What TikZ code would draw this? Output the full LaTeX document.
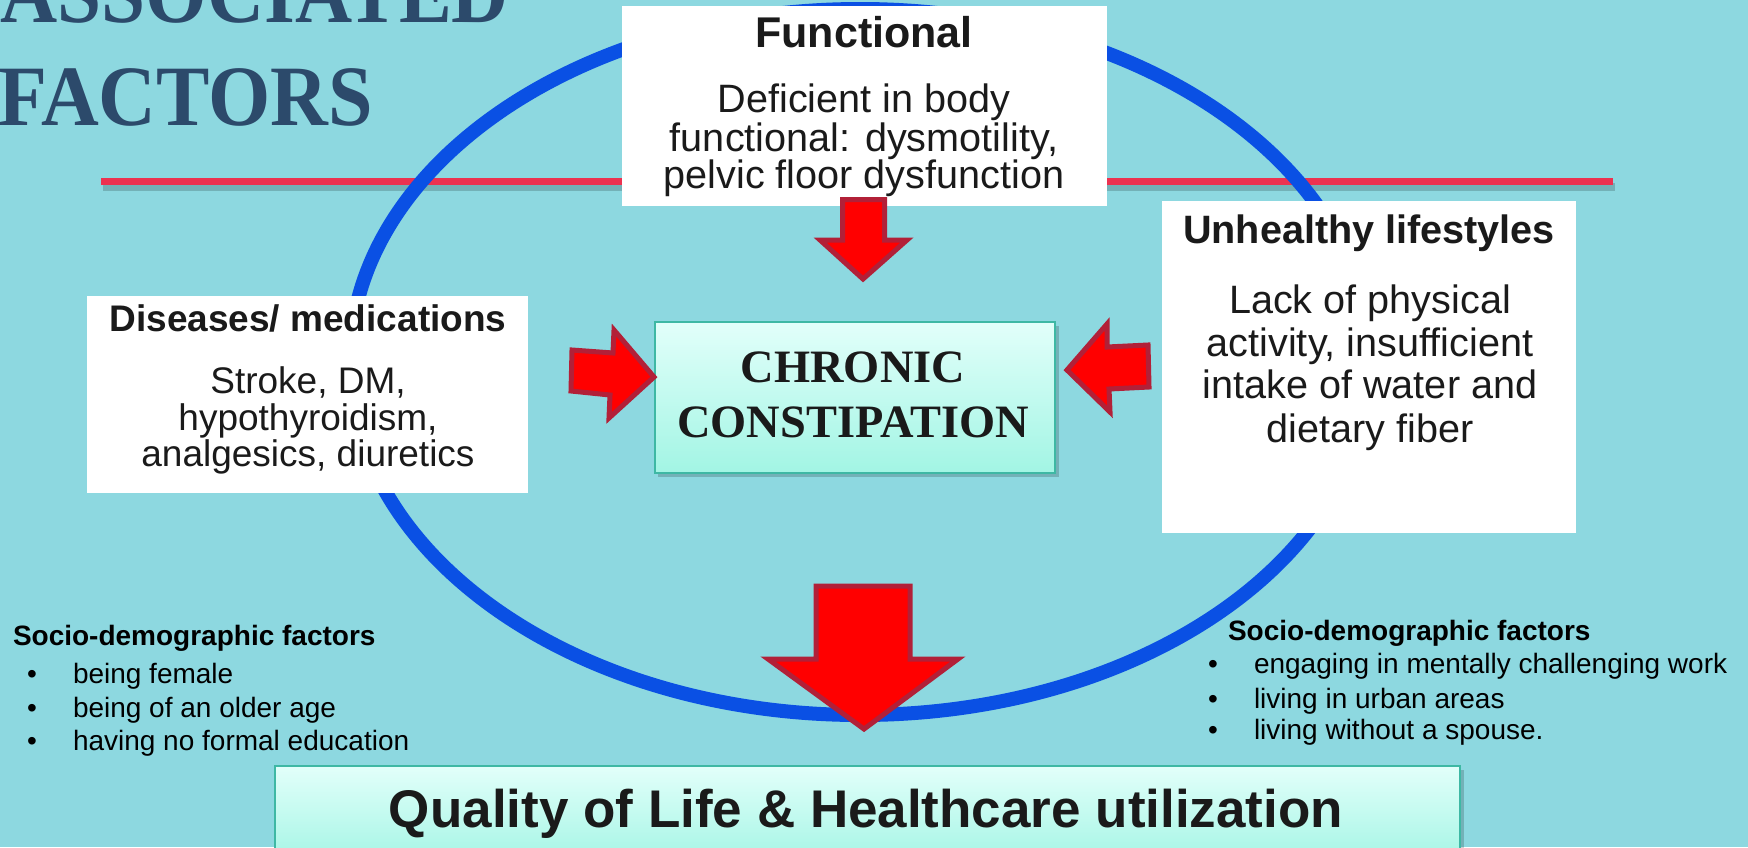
\documentclass[tikz,border=0pt]{standalone}
\usepackage{graphicx}
\usepackage{fontspec}
\setmainfont{Liberation Sans}
\newfontfamily\serifbold{Liberation Serif}
\definecolor{bgc}{RGB}{141,216,224}
\definecolor{ellc}{RGB}{10,80,228}
\definecolor{redline}{RGB}{236,50,80}
\definecolor{titlec}{RGB}{44,74,107}
\definecolor{arrfill}{RGB}{255,0,0}
\definecolor{arrdraw}{RGB}{178,32,56}
\definecolor{gtop}{RGB}{226,255,250}
\definecolor{gbot}{RGB}{162,245,228}
\definecolor{gborder}{RGB}{62,184,164}
\definecolor{txt}{RGB}{26,26,26}
\newcommand\setfs[1]{\fontsize{#1}{#1}\selectfont}
\begin{document}
\begin{tikzpicture}[x=0.5pt,y=-0.5pt,
  tx/.style={inner sep=0pt, outer sep=0pt, text=txt},
  whitebox/.style={fill=white, draw=none},
  gradbox/.style={top color=gtop, bottom color=gbot, draw=gborder, line width=1.2pt},
  blockarrow/.style={fill=arrfill, draw=arrdraw, line width=2.5pt, line join=miter},
  boxshadow/.style={fill=black, opacity=0.18}]
% background
\fill[bgc] (0,0) rectangle (1748,847);
\useasboundingbox (0,0) rectangle (1748,847);
% title
\node[tx, text=titlec, anchor=base east] (t1) at (509,22) {\serifbold\bfseries\setfs{43}\scalebox{0.92}[1]{ASSOCIATED}};
\node[tx, text=titlec, anchor=base east] (t2) at (373,125) {\serifbold\bfseries\setfs{43}\scalebox{0.93}[1]{FACTORS}};
% red rule with shadow
\draw[black, opacity=0.18, line width=4pt] (103,187) -- (1615,187);
\draw[redline, line width=3.5pt] (101,181) -- (1613,181);
% ellipse
\draw[ellc, line width=7pt] (860,362) ellipse [x radius=510, y radius=353];
% functional box
\node[whitebox, minimum width=242.5pt, minimum height=100pt, anchor=north west, inner sep=0pt] (func) at (622,6) {};
\node[tx, anchor=base] (funct) at (864,47) {\bfseries\setfs{21.5}Functional};
\node[tx, anchor=base] (fb1) at (864,112) {\setfs{19.8}Deficient in body};
\node[tx, anchor=base] (fb2) at (864,151) {\setfs{19.8}functional: dysmotility,};
\node[tx, anchor=base] (fb3) at (864,188) {\setfs{19.8}pelvic floor dysfunction};
% diseases box
\node[whitebox, minimum width=220.5pt, minimum height=98.5pt, anchor=north west, inner sep=0pt] (dis) at (87,296) {};
\node[tx, anchor=base] (dist) at (308,331) {\bfseries\setfs{18.5}Diseases/ medications};
\node[tx, anchor=base] (db1) at (308,393) {\setfs{18.5}Stroke, DM,};
\node[tx, anchor=base] (db2) at (308,430) {\setfs{18.5}hypothyroidism,};
\node[tx, anchor=base] (db3) at (308,466) {\setfs{18.5}analgesics, diuretics};
% unhealthy box
\node[whitebox, minimum width=207pt, minimum height=166pt, anchor=north west, inner sep=0pt] (unh) at (1162,201) {};
\node[tx, anchor=base] (unht) at (1369,243) {\bfseries\setfs{19.8}Unhealthy lifestyles};
\node[tx, anchor=base] (ub1) at (1370,313) {\setfs{19.8}Lack of physical};
\node[tx, anchor=base] (ub2) at (1370,356) {\setfs{19.8}activity, insufficient};
\node[tx, anchor=base] (ub3) at (1370,398) {\setfs{19.8}intake of water and};
\node[tx, anchor=base] (ub4) at (1370,442) {\setfs{19.8}dietary fiber};
% chronic constipation box
\fill[boxshadow] (658,326) rectangle (1059,477);
\node[gradbox, minimum width=200pt, minimum height=75.5pt, anchor=north west, inner sep=0pt] (cc) at (654,321) {};
\node[tx, anchor=base] (cc1) at (853,382) {\serifbold\bfseries\setfs{23.2}CHRONIC};
\node[tx, anchor=base] (cc2) at (853,437) {\serifbold\bfseries\setfs{23.2}CONSTIPATION};
% quality box
\fill[boxshadow] (278,770) rectangle (1464,860);
\node[gradbox, minimum width=592.5pt, minimum height=50pt, anchor=north west, inner sep=0pt] (qol) at (274,765) {};
\node[tx, anchor=base] (qolt) at (866,827) {\bfseries\setfs{26.5}Quality of Life \& Healthcare utilization};
% block arrows
\draw[blockarrow] (842.5,199.5) -- (884.5,199.5) -- (884.5,240) -- (907,240) -- (863,279) -- (820,240) -- (842.5,240) -- cycle;
\draw[blockarrow] (816,586) -- (910,586) -- (910,659) -- (958,659) -- (864,729) -- (768,659) -- (816,659) -- cycle;
\draw[blockarrow] (572,350) -- (613,353) -- (614,330) -- (654,377) -- (609,418) -- (610,395) -- (571,391) -- cycle;
\draw[blockarrow] (1067,370) -- (1107,324) -- (1107,347) -- (1148,345) -- (1149,387) -- (1109,389) -- (1110,412) -- cycle;
% socio-demographic left
\node[tx, text=black, anchor=base west] (sl) at (13,645) {\bfseries\setfs{14}Socio-demographic factors};
\node[tx, text=black, anchor=base] (slb1) at (32,683) {\setfs{14}•};
\node[tx, text=black, anchor=base] (slb2) at (32,717) {\setfs{14}•};
\node[tx, text=black, anchor=base] (slb3) at (32,750) {\setfs{14}•};
\node[tx, text=black, anchor=base west] (sl1) at (73,683) {\setfs{14}being female};
\node[tx, text=black, anchor=base west] (sl2) at (73,717) {\setfs{14}being of an older age};
\node[tx, text=black, anchor=base west] (sl3) at (73,750) {\setfs{14}having no formal education};
% socio-demographic right
\node[tx, text=black, anchor=base west] (sr) at (1228,640) {\bfseries\setfs{14}Socio-demographic factors};
\node[tx, text=black, anchor=base] (srb1) at (1213,673) {\setfs{14}•};
\node[tx, text=black, anchor=base] (srb2) at (1213,708) {\setfs{14}•};
\node[tx, text=black, anchor=base] (srb3) at (1213,739) {\setfs{14}•};
\node[tx, text=black, anchor=base west] (sr1) at (1254,673) {\setfs{14}engaging in mentally challenging work};
\node[tx, text=black, anchor=base west] (sr2) at (1254,708) {\setfs{14}living in urban areas};
\node[tx, text=black, anchor=base west] (sr3) at (1254,739) {\setfs{14}living without a spouse.};
\end{tikzpicture}
\end{document}
